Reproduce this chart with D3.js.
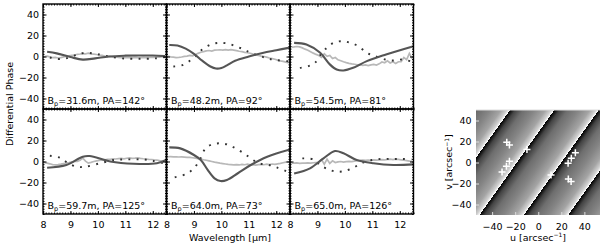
<!DOCTYPE html>
<html>
<head>
<meta charset="utf-8">
<script src="https://cdn.jsdelivr.net/npm/d3@7"></script>
<style>
  body { margin: 0; background: #fff; }
  text { font-family: "DejaVu Sans", sans-serif; font-size: 9.5px; fill: #000; }
</style>
</head>
<body>
<svg id="chart" width="600" height="244"></svg>
<script>
// ---- data ----
var baselines = ["31.6", "48.2", "54.5", "59.7", "64.0", "65.0"];
var posAngles = [142, 92, 81, 125, 73, 126];
var lambdaTicks = [8, 9, 10, 11, 12];
var phaseTicks = [-40, -20, 0, 20, 40];
var uvTicks = [-40, -20, 0, 20, 40];

// wavelength grid of the measured (light grey) curves
var obsLambda = [8.05, 8.15, 8.25, 8.35, 8.45, 8.55, 8.65, 8.75, 8.85, 8.95,
  9.05, 9.15, 9.25, 9.35, 9.45, 9.55, 9.65, 9.75, 9.85, 9.95,
  10.05, 10.15, 10.25, 10.35, 10.45, 10.55, 10.65, 10.75, 10.85, 10.95,
  11.05, 11.15, 11.25, 11.35, 11.45, 11.55, 11.65, 11.75, 11.85, 11.95,
  12.05, 12.15, 12.25, 12.35, 12.45];

var obsPhase = [
  [0, 0.3, -0.4, -1, -0.8, -1.4, -1, -0.3, 0.2, 0.6, 1.2, 1.4, 2.1, 2.4, 2.8, 2.6, 3.1, 2.4, 2.2, 1.9,
   1.4, 1.1, 0.4, 0.1, -0.2, -0.5, -0.4, -0.9, -1.1, -0.8, -1.2, -1, -1.3, -0.9, -1.1, -1.2, -0.8, -1, -1.1, -0.7,
   -0.9, -0.5, -0.6, -0.1, 0.2],
  [0.2, -0.3, -0.6, -1, -0.8, -0.5, 0.1, 0.4, 1, 0.6, 1.7, 3, 4.1, 4.6, 5.4, 5.7, 5.1, 6, 6.2, 6.4,
   6.1, 6.6, 6, 6.5, 6.1, 5.6, 5, 4.6, 4, 3.6, 3.1, 2.4, 1.6, 1.1, 0.4, 0, -0.6, -1.4, -2, -2.6,
   -3.4, -4.1, -4.6, -5.4, -6],
  [9, 9.2, 9.5, 9.1, 8.2, 7, 6, 4.6, 3.2, 2, 1, -0.8, 2.6, 0.2, 1, -2, -1, -3.2, -4, -5,
   -5.8, -6.5, -7, -7.4, -8, -7.8, -8.5, -8, -8.6, -8, -7.6, -8.1, -7, -5.2, -6, -4.2, -6.2, -5, -6.6, -5,
   -5, -1, -3, 3, -2],
  [-1, -1.6, -2.2, -3, -3.2, -2.9, -2.5, -2, -1.5, -1, -0.4, 0, 0.2, 1.2, 3.2, 0.4, -1.5, -0.8, 0, 0.6,
   1, 1.4, 1.6, 2, 2.1, 2.6, 2.4, 2.7, 3, 2.6, 3.1, 3.4, 3, 3.2, 3.5, 3, 2.6, 2.4, 2.1, 1.9,
   1.5, 1.4, 0.9, 0.5, 0.1],
  [4.5, 4.6, 4.4, 4.5, 4.3, 4.4, 4.2, 4, 3.9, 3.6, 3.2, 2.8, 2.3, 1.7, 1.2, 0.6, 0, -0.6, -1.1, -1.6,
   -2, -2.4, -2.8, -3, -3.2, -2.9, -3.3, -2.8, -3.1, -2.6, -3.2, -2.9, -3.4, -3, -2.7, -3.1, -2.6, -2.9, -2.4, -2.7,
   -2.2, -1.8, -1.2, -0.6, 0],
  [-1.5, -1.6, -1.4, -1.8, -1.5, -1.6, -1.3, -1.5, -1.2, -1, -0.8, 1.8, -2.6, 2.2, -1.8, 0.6, -1, -0.4, 0, -0.6,
   -0.2, 0.2, -0.1, 0.4, 0.8, 1, 1.3, 1.1, 1.4, 1.2, 1.6, 1.3, 1.5, 1.8, 1.6, 1.9, 2.2, 1.8, 2.3, 2,
   1.6, 1.2, 0.8, 0.4, 0]
];

// model curve (dark grey), [wavelength, phase]
var modelPhase = [
  [[8.15, 4.5], [8.5, 3], [9, -0.5], [9.45, -3], [9.9, -1.8], [10.4, 0], [11, 0.8], [11.5, 1], [12, 0.9], [12.45, 0.4]],
  [[8.1, 11], [8.4, 10.5], [8.7, 7.5], [9, 2.5], [9.3, -4], [9.6, -9.5], [9.8, -11.5], [10, -11], [10.2, -8.5],
   [10.5, -4], [11, 0], [11.5, 3.4], [12, 6], [12.5, 8.5]],
  [[8.15, 13], [8.6, 11.4], [9.1, 3.5], [9.45, -7.5], [9.7, -12.4], [9.95, -13.3], [10.3, -10.8], [10.8, -4.4],
   [11.5, 1.9], [12.5, 9.8]],
  [[8.15, -5.9], [8.85, -3.3], [9.45, 4.6], [9.7, 5.2], [10.45, 0], [11.3, -2.2], [12.15, -1.7], [12.5, 1.8]],
  [[8.1, 13.5], [8.5, 12.5], [9, 6.2], [9.25, 1.4], [9.5, -8], [9.75, -16], [9.97, -18.6], [10.2, -17.6],
   [10.6, -11.2], [11.07, -3.3], [11.67, 4.6], [12.5, 11.5]],
  [[8.15, -11.5], [8.73, -6.5], [9.22, 3], [9.64, 10], [9.95, 7.8], [10.43, 1.4], [11.04, -1.7], [11.77, -3.3], [12.5, -2.7]]
];

// second model (dotted)
var altPhase = [
  [[8.25, -1], [8.7, -2.5], [9.1, 0.5], [9.4, 3], [9.7, 3.3], [10, 2.2], [10.4, 0], [10.9, -1.8], [11.5, -2.2],
   [12.1, -1.8], [12.45, -0.5]],
  [[8.25, -9.5], [8.55, -8.5], [8.8, -5], [9.06, 0.3], [9.3, 6.7], [9.61, 11.4], [9.91, 13], [10.21, 12.4],
   [10.52, 9.8], [10.82, 6.7], [11.07, 3.5], [11.43, 0.3], [11.73, -2.2], [12.04, -3.5], [12.45, -4.6]],
  [[8.36, -10.8], [8.67, -9.2], [8.91, -6], [9.16, 3.5], [9.34, 8.3], [9.58, 13], [9.89, 14.6], [10.19, 13],
   [10.49, 9.8], [10.8, 3.5], [11.1, 0.3], [11.47, -2.9], [11.77, -3.8], [12.08, -2.9], [12.38, -4.4]],
  [[8.25, 5.5], [8.62, 3.6], [8.92, -1.7], [9.23, -5], [9.53, -5], [10.08, -1.7], [10.57, 1.4], [10.93, 2],
   [11.3, 2], [11.66, 2], [12.03, 0.5], [12.4, -1.7]],
  [[8.3, -15], [8.69, -12.2], [9, -6.5], [9.24, 3], [9.42, 12.5], [9.67, 16.3], [9.97, 17.3], [10.27, 15.7],
   [10.52, 12.5], [10.82, 7.8], [11.07, 3], [11.37, -1.7], [11.73, -3.3], [12.04, -5.9], [12.4, -9.7]],
  [[8.45, 3], [8.85, 2], [9.09, -3.3], [9.4, -7.5], [9.7, -9.7], [10, -9], [10.31, -5.9], [10.61, -1.7],
   [10.98, 1.4], [11.35, 2.4], [11.71, 2.4], [12.08, 2.4], [12.44, 2]]
];

// uv coverage (arcsec^-1)
var uvU = [-27.3, -25.0, -9.8, -25.0, -27.6, -31.4, 11.1, 26.1, 28.5, 25.9, 28.7, 32.2];
var uvV = [19.4, 16.6, 12.4, 1.2, -3.5, -9.0, -11.9, -15.7, -18.2, -0.7, 4.1, 9.2];

// phase map: wrap lines u = phaseU0 + phaseSlope * v + k * phasePeriod
var phaseU0 = -18.5;
var phaseSlope = 0.65;
var phasePeriod = 38.5;

// ---- layout ----
var colX = [43, 166.5, 290, 413.5];
var rowY = [4, 109, 214];

var svg = d3.select("#chart");
var defs = svg.append("defs");

function cleanAxis(sel) {
  sel.select(".domain").remove();
  sel.attr("font-size", null).attr("font-family", null);
}

var lineObs = d3.line().curve(d3.curveLinear);
var lineModel = d3.line().curve(d3.curveCatmullRom.alpha(0.5));

baselines.forEach(function(b, i) {
  var col = i % 3, row = Math.floor(i / 3);
  var x = d3.scaleLinear().domain([8, 12.5]).range([colX[col], colX[col + 1]]);
  var y = d3.scaleLinear().domain([-50, 50]).range([rowY[row + 1], rowY[row]]);

  defs.append("clipPath").attr("id", "clip" + i)
    .append("rect")
    .attr("x", x.range()[0]).attr("y", y.range()[1])
    .attr("width", x.range()[1] - x.range()[0])
    .attr("height", y.range()[0] - y.range()[1]);

  var g = svg.append("g");
  var plot = g.append("g").attr("clip-path", "url(#clip" + i + ")");

  lineObs.x(function(d) { return x(d[0]); }).y(function(d) { return y(d[1]); });
  lineModel.x(function(d) { return x(d[0]); }).y(function(d) { return y(d[1]); });

  plot.append("path")
    .attr("d", lineObs(obsLambda.map(function(l, k) { return [l, obsPhase[i][k]]; })))
    .attr("fill", "none").attr("stroke", "#b8b8b8").attr("stroke-width", 1.7);

  plot.append("path")
    .attr("d", lineModel(altPhase[i]))
    .attr("fill", "none").attr("stroke", "#333").attr("stroke-width", 1.9)
    .attr("stroke-dasharray", "1.9,6.3");

  plot.append("path")
    .attr("d", lineModel(modelPhase[i]))
    .attr("fill", "none").attr("stroke", "#555").attr("stroke-width", 2.1);

  // label
  var lab = g.append("text").attr("x", x.range()[0] + 4.5).attr("y", y(-50) - 5.5);
  lab.append("tspan").text("B");
  lab.append("tspan").attr("font-size", 6.5).attr("dy", 2).text("p");
  lab.append("tspan").attr("dy", -2).text("=" + b + "m, PA=" + posAngles[i] + "\u00b0");

  // axes (ticks inside, IDL style)
  var minorX = d3.range(8, 12.51, 0.1);
  var minorY = d3.range(-50, 50.1, 2.5);
  g.append("g").attr("transform", "translate(0," + y.range()[0] + ")")
    .call(d3.axisBottom(x).tickValues(minorX).tickSize(-1.5).tickFormat(""))
    .call(cleanAxis);
  g.append("g").attr("transform", "translate(0," + y.range()[1] + ")")
    .call(d3.axisTop(x).tickValues(minorX).tickSize(-1.5).tickFormat(""))
    .call(cleanAxis);
  g.append("g").attr("transform", "translate(" + x.range()[0] + ",0)")
    .call(d3.axisLeft(y).tickValues(minorY).tickSize(-1.5).tickFormat(""))
    .call(cleanAxis);
  g.append("g").attr("transform", "translate(" + x.range()[1] + ",0)")
    .call(d3.axisRight(y).tickValues(minorY).tickSize(-1.5).tickFormat(""))
    .call(cleanAxis);

  g.append("g").attr("transform", "translate(0," + y.range()[0] + ")")
    .call(d3.axisBottom(x).tickValues(lambdaTicks).tickSize(-3).tickPadding(7.5)
      .tickFormat(row === 1 ? d3.format("d") : ""))
    .call(cleanAxis);
  g.append("g").attr("transform", "translate(0," + y.range()[1] + ")")
    .call(d3.axisTop(x).tickValues(lambdaTicks).tickSize(-3).tickFormat(""))
    .call(cleanAxis);
  g.append("g").attr("transform", "translate(" + x.range()[0] + ",0)")
    .call(d3.axisLeft(y).tickValues(phaseTicks).tickSize(-3.5).tickPadding(4)
      .tickFormat(col === 0 ? d3.format("d") : ""))
    .call(cleanAxis);
  g.append("g").attr("transform", "translate(" + x.range()[1] + ",0)")
    .call(d3.axisRight(y).tickValues(phaseTicks).tickSize(-3.5).tickFormat(""))
    .call(cleanAxis);

  g.append("rect")
    .attr("x", x.range()[0]).attr("y", y.range()[1])
    .attr("width", x.range()[1] - x.range()[0])
    .attr("height", y.range()[0] - y.range()[1])
    .attr("fill", "none").attr("stroke", "#000").attr("stroke-width", 1.4);
});

svg.selectAll(".tick line").attr("stroke", "#000");

svg.append("text")
  .attr("transform", "translate(12.5,104) rotate(-90)")
  .attr("text-anchor", "middle")
  .text("Differential Phase");

var wl = svg.append("text").attr("x", 230).attr("y", 240.5)
  .attr("text-anchor", "middle");
wl.append("tspan").text("Wavelength [\u03bcm]");

// ---- uv phase map ----
var u = d3.scaleLinear().domain([-54, 54]).range([476, 600.5]);
var v = d3.scaleLinear().domain([-50, 50]).range([215, 110]);

var p1 = [u(phaseU0), v(0)];
var dir = [u(phaseU0 + phaseSlope * 10) - u(phaseU0), v(10) - v(0)];
var len = Math.hypot(dir[0], dir[1]);
var nrm = [-dir[1] / len, dir[0] / len];
if (nrm[0] < 0) nrm = [-nrm[0], -nrm[1]];
var hp = u(phaseU0 + phasePeriod) - u(phaseU0);
var dist = hp * nrm[0];

var grad = defs.append("linearGradient").attr("id", "phase")
  .attr("gradientUnits", "userSpaceOnUse")
  .attr("spreadMethod", "repeat")
  .attr("x1", p1[0]).attr("y1", p1[1])
  .attr("x2", p1[0] + nrm[0] * dist).attr("y2", p1[1] + nrm[1] * dist);
[[0, "#000"], [0.12, "#444"], [0.3, "#6e6e6e"], [0.55, "#858585"], [0.8, "#a4a4a4"], [0.93, "#d0d0d0"], [1, "#fff"]]
  .forEach(function(s) {
    grad.append("stop").attr("offset", s[0]).attr("stop-color", s[1]);
  });

var map = svg.append("g");
map.append("rect")
  .attr("x", u.range()[0]).attr("y", v.range()[1])
  .attr("width", u.range()[1] - u.range()[0])
  .attr("height", v.range()[0] - v.range()[1])
  .attr("fill", "url(#phase)");

map.selectAll("path.uv")
  .data(uvU.map(function(d, k) { return [d, uvV[k]]; }))
  .enter().append("path")
  .attr("class", "uv")
  .attr("transform", function(d) { return "translate(" + u(d[0]) + "," + v(d[1]) + ")"; })
  .attr("d", "M-3.5,0H3.5M0,-3.5V3.5")
  .attr("stroke", "#fff").attr("stroke-width", 1.5);

map.append("g").attr("transform", "translate(0," + v.range()[0] + ")")
  .call(d3.axisBottom(u).tickValues(uvTicks).tickSize(-3).tickPadding(8.5).tickFormat(d3.format("d")))
  .call(cleanAxis);
map.append("g").attr("transform", "translate(" + u.range()[0] + ",0)")
  .call(d3.axisLeft(v).tickValues(uvTicks).tickSize(-3).tickPadding(4.5).tickFormat(d3.format("d")))
  .call(cleanAxis);
map.selectAll(".tick line").attr("stroke", "#ddd");
map.append("line")
  .attr("x1", u.range()[0]).attr("x2", u.range()[1])
  .attr("y1", v.range()[1]).attr("y2", v.range()[1])
  .attr("stroke", "#ddd").attr("stroke-width", 1);

var ul = svg.append("text").attr("x", 538).attr("y", 240.5)
  .attr("text-anchor", "middle");
ul.append("tspan").text("u [arcsec");
ul.append("tspan").attr("font-size", 6).attr("dy", -3.5).text("\u22121");
ul.append("tspan").attr("dy", 3.5).text("]");

var vl = svg.append("text")
  .attr("transform", "translate(452,162) rotate(-90)")
  .attr("text-anchor", "middle");
vl.append("tspan").text("v [arcsec");
vl.append("tspan").attr("font-size", 6).attr("dy", -3.5).text("\u22121");
vl.append("tspan").attr("dy", 3.5).text("]");
</script>
</body>
</html>
